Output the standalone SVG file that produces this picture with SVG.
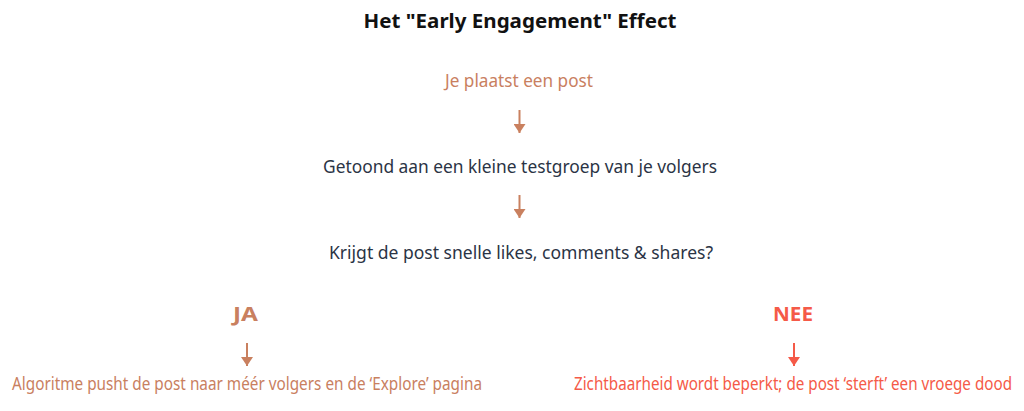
<svg xmlns="http://www.w3.org/2000/svg" width="1024" height="411" viewBox="0 0 1024 411">
<defs>
<style>
.t{font-family:"Noto Sans","Open Sans","Liberation Sans",sans-serif;text-anchor:middle}
.title{font-size:20px;font-weight:bold;fill:#111111}
.step{font-size:18px;fill:#2b3445}
.brown{fill:#c9805f}
.red{fill:#f55a48}
.lbl{font-size:20px;font-weight:bold}
.ln{stroke-width:2;fill:none}
</style>
<marker id="ahB" viewBox="0 0 12 9" refX="6" refY="9" markerWidth="12" markerHeight="9" markerUnits="userSpaceOnUse" orient="0">
<path d="M0,0 L12,0 L6,9 Z" fill="#c9805f"/>
</marker>
<marker id="ahR" viewBox="0 0 12 9" refX="6" refY="9" markerWidth="12" markerHeight="9" markerUnits="userSpaceOnUse" orient="0">
<path d="M0,0 L12,0 L6,9 Z" fill="#f55a48"/>
</marker>
</defs>
<rect width="1024" height="411" fill="#ffffff"/>
<g id="title"><text class="t title" x="520" y="28" textLength="313" lengthAdjust="spacingAndGlyphs">Het "Early Engagement" Effect</text></g>
<g id="node-post"><text class="t step brown" x="519" y="87" textLength="148" lengthAdjust="spacingAndGlyphs">Je plaatst een post</text></g>
<g id="node-test"><text class="t step" x="520" y="173" textLength="394" lengthAdjust="spacingAndGlyphs">Getoond aan een kleine testgroep van je volgers</text></g>
<g id="node-vraag"><text class="t step" x="521" y="259" textLength="384" lengthAdjust="spacingAndGlyphs">Krijgt de post snelle likes, comments &amp; shares?</text></g>
<g id="node-ja"><text class="t lbl brown" x="245.5" y="321" textLength="25" lengthAdjust="spacingAndGlyphs">JA</text></g>
<g id="node-nee"><text class="t lbl red" x="793" y="321" textLength="40" lengthAdjust="spacingAndGlyphs">NEE</text></g>
<g id="node-ja-result"><text class="t step brown" x="247" y="390" textLength="470" lengthAdjust="spacingAndGlyphs">Algoritme pusht de post naar méér volgers en de ‘Explore’ pagina</text></g>
<g id="node-nee-result"><text class="t step red" x="793" y="390" textLength="438" lengthAdjust="spacingAndGlyphs">Zichtbaarheid wordt beperkt; de post ‘sterft’ een vroege dood</text></g>
<g id="connectors">
<line class="ln" x1="519.5" y1="110" x2="519.5" y2="133" stroke="#c9805f" marker-end="url(#ahB)"/>
<line class="ln" x1="519.5" y1="195" x2="519.5" y2="218" stroke="#c9805f" marker-end="url(#ahB)"/>
<line class="ln" x1="247" y1="343" x2="247" y2="366" stroke="#c9805f" marker-end="url(#ahB)"/>
<line class="ln" x1="794" y1="343" x2="794" y2="366" stroke="#f55a48" marker-end="url(#ahR)"/>
</g>
</svg>
